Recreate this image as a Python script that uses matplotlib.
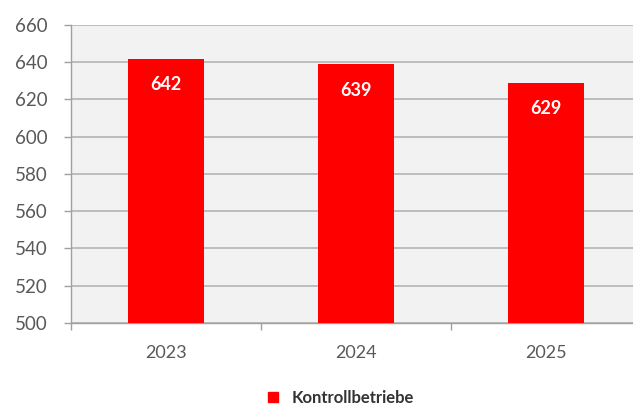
import matplotlib
matplotlib.use("Agg")
import matplotlib.pyplot as plt
from matplotlib.lines import Line2D

categories = ["2023", "2024", "2025"]
values = [642, 639, 629]
series_name = "Kontrollbetriebe"
yticks = [500, 520, 540, 560, 580, 600, 620, 640, 660]

plt.rcParams['font.family'] = ['Lato', 'DejaVu Sans']

fig = plt.figure(figsize=(6.33, 4.07), dpi=100)
W, H = 633, 407
ax = fig.add_axes([71 / W, (H - 323) / H, (641 - 71) / W, (323 - 25) / H])
ax.set_facecolor("#f2f2f2")

x = list(range(len(categories)))
bars = ax.bar(x, values, width=0.4, color="#ff0000", zorder=3)
for xi, v in zip(x, values):
    ax.text(xi, v - 14, str(v), ha="center", va="center", color="white",
            fontsize=13, fontweight="bold", zorder=4)

ax.set_ylim(500, 660)
ax.set_xlim(-0.5, 2.5)
ax.set_yticks(yticks)
ax.set_yticklabels([str(t) for t in yticks])
ax.yaxis.grid(True, color="#b4b4b4", linewidth=1.2, zorder=1)
ax.set_axisbelow(True)

ax.set_xticks([-0.5, 0.5, 1.5, 2.5])
ax.set_xticklabels([])
ax.set_xticks(x, minor=True)
ax.set_xticklabels(categories, minor=True)
ax.tick_params(axis="x", which="minor", length=0, pad=16, labelsize=13, labelcolor="#595959")
ax.tick_params(axis="x", which="major", length=5, color="#a0a0a0", width=1)
ax.tick_params(axis="y", length=5, color="#a0a0a0", width=1, labelsize=13.5, labelcolor="#595959", pad=12)

for s in ["top", "right"]:
    ax.spines[s].set_visible(False)
ax.spines["left"].set_color("#a0a0a0")
ax.spines["bottom"].set_color("#a0a0a0")
ax.spines["left"].set_linewidth(1)
ax.spines["bottom"].set_linewidth(1)

handle = Line2D([], [], marker="s", linestyle="none", color="#ff0000", markersize=7.5)
fig.legend([handle], [series_name], loc="center", bbox_to_anchor=(335 / W, 1 - 398 / H),
           frameon=False, handletextpad=0.1,
           prop={'family': ['Lato', 'DejaVu Sans'], 'weight': 'bold', 'size': 12})
for t in fig.legends[0].get_texts():
    t.set_color("#333333")

fig.savefig("out.png", dpi=100, facecolor="white")
